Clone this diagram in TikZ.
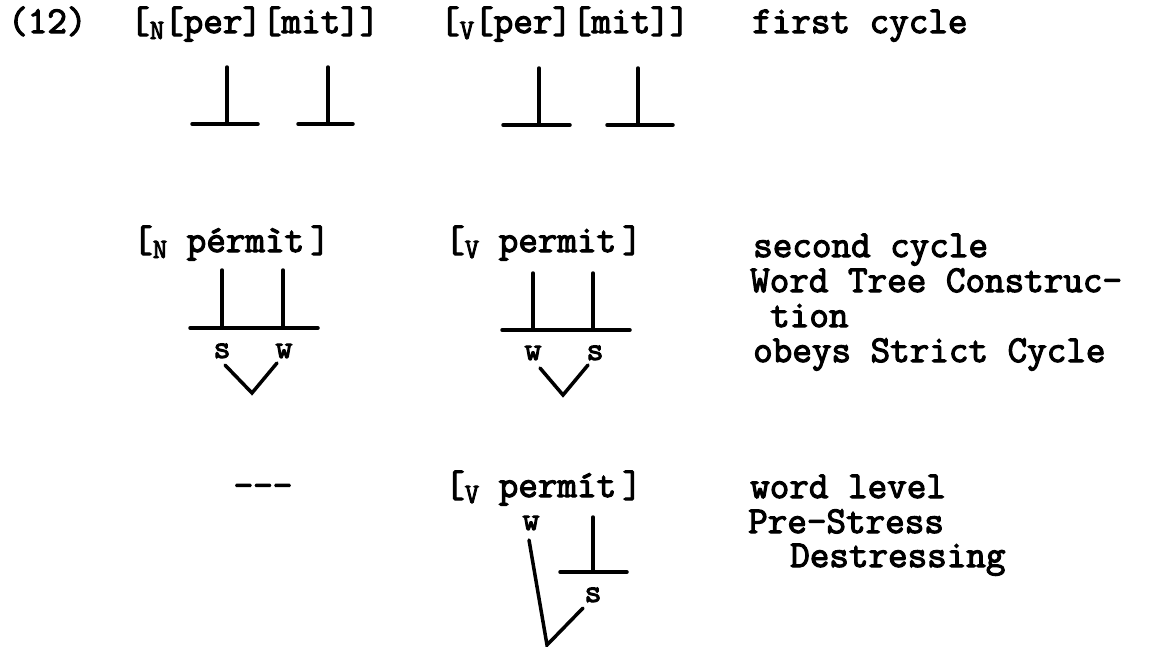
\documentclass[tikz,border=0pt]{standalone}
\usepackage{fontspec}
\newfontfamily\typer{Latin Modern Mono}[FakeBold=3]
\newcommand{\catsub}[1]{\raisebox{-6pt}{\fontsize{28}{28}\selectfont #1}}

\begin{document}
\begin{tikzpicture}[x=1pt, y=-1pt,
    txt/.style={font=\typer\fontsize{38}{35}\selectfont, anchor=base west, inner sep=0pt, text height=24pt, text depth=8pt},
    lbl/.style={font=\typer\fontsize{33}{33}\selectfont, anchor=base, inner sep=0pt},
    br/.style={line width=3.5pt, line cap=round}
  ]
  \useasboundingbox (0,0) rectangle (1150,646);
  % first cycle
  \node[txt] (ex) at (8,33) {(12)};
  \node[txt] (nfirst) at (130,33) {[\catsub{N}[per][mit]]};
  \node[txt] (vfirst) at (440,33) {[\catsub{V}[per][mit]]};
  \node[txt] (cyc1) at (752,33) {first cycle};
  \draw[br] (227,67) -- (227,124) (192,124) -- (258,124);
  \draw[br] (328,67) -- (328,124) (298,124) -- (353,124);
  \draw[br] (539,68) -- (539,125) (503,125) -- (570,125);
  \draw[br] (638,68) -- (638,125) (607,125) -- (673,125);
  % second cycle
  \node[txt] (nsecond) at (133,252) {[\catsub{N} pérmìt\,]};
  \node[txt] (vsecond) at (445,252) {[\catsub{V} permit\,]};
  \draw[br] (222,270) -- (222,328) (283,270) -- (283,328) (190,328) -- (318,328);
  \node[lbl] (ns) at (222,358) {s};
  \node[lbl] (nw) at (284,358) {w};
  \draw[br] (225,365) -- (252,393) -- (277,363);
  \draw[br] (533,273) -- (533,330) (593,273) -- (593,330) (502,330) -- (630,330);
  \node[lbl] (vw) at (533,360) {w};
  \node[lbl] (vs) at (595,360) {s};
  \draw[br] (540,368) -- (563,395) -- (588,365);
  \node[txt] (cyc2a) at (753,257) {second cycle};
  \node[txt] (cyc2b) at (750,292) {Word Tree Construc-};
  \node[txt] (cyc2c) at (770,327) {tion};
  \node[txt] (cyc2d) at (753,362) {obeys Strict Cycle};
  % word level
  \node[txt, anchor=base] (ndash) at (263,497) {-{}-{}-};
  \node[txt] (vword) at (445,497) {[\catsub{V} permít\,]};
  \node[lbl] (ww) at (531,530) {w};
  \draw[br] (593,517) -- (593,572) (560,572) -- (627,572);
  \node[lbl] (ws) at (593,602) {s};
  \draw[br] (529,540) -- (547,645) -- (583,608);
  \node[txt] (lev1) at (750,498) {word level};
  \node[txt] (lev2) at (748,533) {Pre-Stress};
  \node[txt] (lev3) at (790,567) {Destressing};
\end{tikzpicture}
\end{document}
